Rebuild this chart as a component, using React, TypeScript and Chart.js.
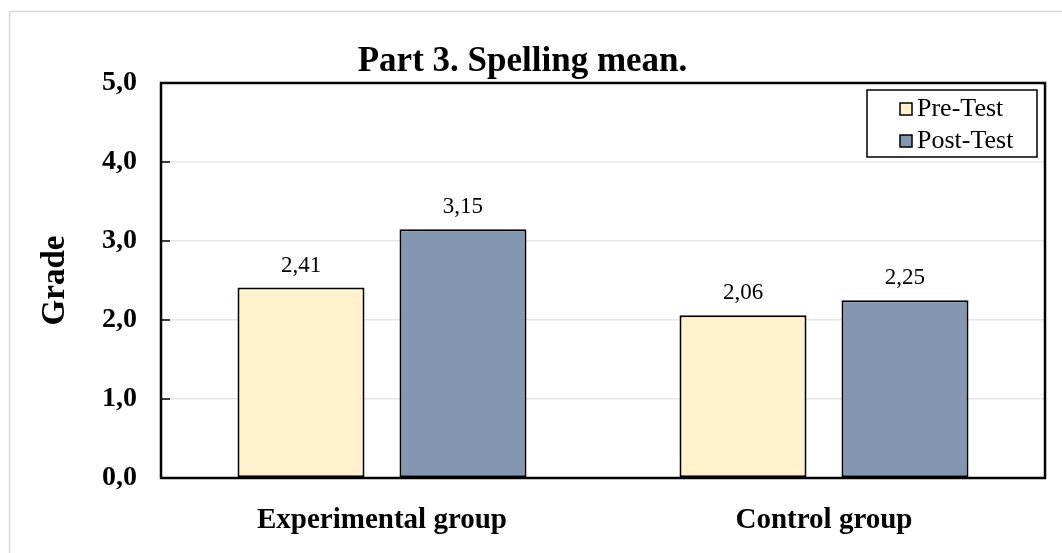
import React, { useEffect, useRef } from "react";
import { Chart, registerables } from "chart.js";

Chart.register(...registerables);

const categories = ["Experimental group", "Control group"];
const preTest = [2.41, 2.06];
const postTest = [3.15, 2.25];
const seriesNames = ["Pre-Test", "Post-Test"];
const seriesColors = ["#FFF2CC", "#8497B0"];
const yMin = 0;
const yMax = 5;
const yStep = 1;
const chartTitle = "Part 3. Spelling mean.";
const yTitle = "Grade";

const FONT = "'Liberation Serif', 'Times New Roman', serif";
const fmt1 = (v: number) => v.toFixed(1).replace(".", ",");
const fmt2 = (v: number) => v.toFixed(2).replace(".", ",");

const framePlugin = {
  id: "frame",
  beforeDraw(chart: any) {
    const ctx = chart.ctx;
    ctx.save();
    ctx.strokeStyle = "#d9d9d9";
    ctx.lineWidth = 1.5;
    ctx.beginPath();
    ctx.moveTo(9.5, chart.height);
    ctx.lineTo(9.5, 11.5);
    ctx.lineTo(chart.width, 11.5);
    ctx.stroke();
    ctx.restore();
  },
};

const overlayPlugin = {
  id: "overlay",
  afterDatasetsDraw(chart: any) {
    const ctx = chart.ctx;
    const area = chart.chartArea;
    ctx.save();
    // value labels
    ctx.font = `23px ${FONT}`;
    ctx.fillStyle = "#000";
    ctx.textAlign = "center";
    ctx.textBaseline = "alphabetic";
    chart.data.datasets.forEach((ds: any, di: number) => {
      const meta = chart.getDatasetMeta(di);
      meta.data.forEach((el: any, i: number) => {
        ctx.fillText(fmt2(ds.data[i]), el.x, el.y - 16);
      });
    });
    // inside y ticks
    const yScale = chart.scales.y;
    ctx.strokeStyle = "#000";
    ctx.lineWidth = 1.5;
    yScale.ticks.forEach((t: any) => {
      const py = yScale.getPixelForValue(t.value);
      ctx.beginPath();
      ctx.moveTo(area.left, py);
      ctx.lineTo(area.left + 9, py);
      ctx.stroke();
    });
    // plot border
    ctx.lineWidth = 2.5;
    ctx.strokeRect(area.left, area.top, area.right - area.left, area.bottom - area.top);
    // legend
    const bw = 170;
    const bh = 67;
    const bx = area.right - 8 - bw;
    const by = area.top + 7;
    ctx.fillStyle = "#fff";
    ctx.fillRect(bx, by, bw, bh);
    ctx.lineWidth = 1.5;
    ctx.strokeStyle = "#000";
    ctx.strokeRect(bx, by, bw, bh);
    ctx.font = `26px ${FONT}`;
    ctx.textAlign = "left";
    ctx.textBaseline = "middle";
    chart.data.datasets.forEach((ds: any, di: number) => {
      const cy = by + 19 + di * 32;
      ctx.fillStyle = ds.backgroundColor;
      ctx.fillRect(bx + 33, cy - 6, 12, 12);
      ctx.lineWidth = 1.5;
      ctx.strokeRect(bx + 33, cy - 6, 12, 12);
      ctx.fillStyle = "#000";
      ctx.fillText(ds.label, bx + 50, cy);
    });
    ctx.restore();
  },
};

export default function App() {
  const ref = useRef<HTMLCanvasElement | null>(null);
  useEffect(() => {
    if (!ref.current) return;
    const chart = new Chart(ref.current, {
      type: "bar",
      data: {
        labels: categories,
        datasets: [
          {
            label: seriesNames[0],
            data: preTest,
            backgroundColor: seriesColors[0],
            borderColor: "#000",
            borderWidth: 2,
            borderSkipped: false,
            categoryPercentage: 0.733,
            barPercentage: 0.784,
          },
          {
            label: seriesNames[1],
            data: postTest,
            backgroundColor: seriesColors[1],
            borderColor: "#000",
            borderWidth: 2,
            borderSkipped: false,
            categoryPercentage: 0.733,
            barPercentage: 0.784,
          },
        ],
      },
      options: {
        animation: false,
        responsive: false,
        layout: { padding: { left: 0, right: 17, top: 0, bottom: 0 } },
        plugins: {
          legend: { display: false },
          tooltip: { enabled: false },
          title: {
            display: true,
            text: chartTitle,
            color: "#000",
            font: { family: FONT, size: 35, weight: "bold" },
            padding: { top: 41, bottom: 0 },
          },
        },
        scales: {
          x: {
            grid: { display: false },
            border: { display: false },
            ticks: {
              color: "#000",
              font: { family: FONT, size: 29, weight: "bold" },
              padding: 17,
            },
            afterFit(scale: any) {
              scale.height = 75;
            },
          },
          y: {
            min: yMin,
            max: yMax,
            ticks: {
              stepSize: yStep,
              color: "#000",
              font: { family: FONT, size: 28, weight: "bold" },
              padding: 24,
              callback: (v: any) => fmt1(Number(v)),
            },
            grid: { color: "#e6e6e6", lineWidth: 1.5, drawTicks: false },
            border: { display: false },
            title: {
              display: true,
              text: yTitle,
              color: "#000",
              font: { family: FONT, size: 33, weight: "bold" },
              padding: { top: 36, bottom: 0 },
            },
            afterFit(scale: any) {
              scale.width = 161;
            },
          },
        },
      },
      plugins: [framePlugin, overlayPlugin],
    });
    return () => chart.destroy();
  }, []);
  return (
    <div style={{ position: "absolute", left: 0, top: 0, width: 1062, height: 553, background: "#fff" }}>
      <canvas ref={ref} width={1062} height={553} style={{ display: "block" }} />
    </div>
  );
}
